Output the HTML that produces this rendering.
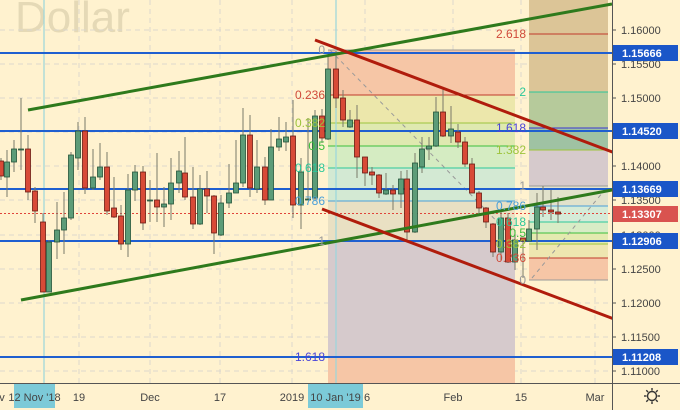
<!DOCTYPE html>
<html><head><meta charset="utf-8"><style>
html,body{margin:0;padding:0;background:#fff2cf;}
svg{display:block;font-family:"Liberation Sans",sans-serif;}
.w{stroke:#7a7a6a;stroke-width:1}
.r{fill:#d84a37;stroke:#6b1a12;stroke-width:.8}
.g{fill:#5c9c78;stroke:#24543a;stroke-width:.8}
.gd{stroke:#dcd8cc;stroke-width:1;stroke-dasharray:5,4}
.ax{font-size:11px;fill:#444}
.bx{font-size:11px;fill:#fff;font-weight:bold}
.fl{font-size:12px}
</style></head><body>
<svg width="680" height="410" viewBox="0 0 680 410">
<rect width="680" height="410" fill="#fff2cf"/>
<text x="15" y="32" font-size="44" fill="#e5d9b6">Dollar</text>
<!-- grid -->
<g class="gd">
<line x1="0" y1="30" x2="612" y2="30"/><line x1="0" y1="64" x2="612" y2="64"/><line x1="0" y1="98" x2="612" y2="98"/><line x1="0" y1="132" x2="612" y2="132"/><line x1="0" y1="166" x2="612" y2="166"/><line x1="0" y1="200" x2="612" y2="200"/><line x1="0" y1="235" x2="612" y2="235"/><line x1="0" y1="269" x2="612" y2="269"/><line x1="0" y1="303" x2="612" y2="303"/><line x1="0" y1="337" x2="612" y2="337"/><line x1="0" y1="371" x2="612" y2="371"/>
<line x1="79" y1="0" x2="79" y2="383"/><line x1="150" y1="0" x2="150" y2="383"/><line x1="220" y1="0" x2="220" y2="383"/><line x1="292" y1="0" x2="292" y2="383"/><line x1="365" y1="0" x2="365" y2="383"/><line x1="453" y1="0" x2="453" y2="383"/><line x1="521" y1="0" x2="521" y2="383"/><line x1="595" y1="0" x2="595" y2="383"/>
</g>
<!-- fib 1 fills -->
<rect x="328" y="50" width="187" height="45" fill="#f6c6a6"/>
<rect x="328" y="95" width="187" height="28" fill="#ece7ab"/>
<rect x="328" y="123" width="187" height="23" fill="#dfe9b0"/>
<rect x="328" y="146" width="187" height="22" fill="#d5ecc2"/>
<rect x="328" y="168" width="187" height="33" fill="#d3e9d3"/>
<rect x="328" y="201" width="187" height="40" fill="#e9e0c3"/>
<rect x="328" y="241" width="187" height="116" fill="#d6cacc"/>
<rect x="328" y="357" width="187" height="26" fill="#f6c6a6"/>
<g stroke-width="1">
<line x1="328" y1="50" x2="515" y2="50" stroke="#999"/>
<line x1="328" y1="95" x2="515" y2="95" stroke="#c0392b"/>
<line x1="328" y1="123" x2="515" y2="123" stroke="#9dc43c"/>
<line x1="328" y1="146" x2="515" y2="146" stroke="#3cbf3c"/>
<line x1="328" y1="168" x2="515" y2="168" stroke="#2cc79a"/>
<line x1="328" y1="201" x2="515" y2="201" stroke="#4a9fd8"/>
<line x1="328" y1="241" x2="515" y2="241" stroke="#999"/>
<line x1="328" y1="357" x2="515" y2="357" stroke="#3b35d0"/>
</g>
<!-- fib 2 fills -->
<rect x="529" y="0" width="79" height="92" fill="#dcc597"/>
<rect x="529" y="92" width="79" height="36" fill="#b6ca9b"/>
<rect x="529" y="128" width="79" height="22" fill="#9fc2a3"/>
<rect x="529" y="150" width="79" height="36" fill="#d6cacc"/>
<rect x="529" y="186" width="79" height="20" fill="#e2e2cb"/>
<rect x="529" y="206" width="79" height="16" fill="#d5ebd8"/>
<rect x="529" y="222" width="79" height="11" fill="#d8ecc6"/>
<rect x="529" y="233" width="79" height="11" fill="#e4eab0"/>
<rect x="529" y="244" width="79" height="14" fill="#eee6b0"/>
<rect x="529" y="258" width="79" height="22" fill="#f6c6a6"/>
<g stroke-width="1">
<line x1="529" y1="34" x2="608" y2="34" stroke="#c0392b"/>
<line x1="529" y1="92" x2="608" y2="92" stroke="#2cc79a"/>
<line x1="529" y1="128" x2="608" y2="128" stroke="#3b35d0"/>
<line x1="529" y1="150" x2="608" y2="150" stroke="#9dc43c"/>
<line x1="529" y1="186" x2="608" y2="186" stroke="#999"/>
<line x1="529" y1="206" x2="608" y2="206" stroke="#4a9fd8"/>
<line x1="529" y1="222" x2="608" y2="222" stroke="#2cc79a"/>
<line x1="529" y1="233" x2="608" y2="233" stroke="#3cbf3c"/>
<line x1="529" y1="244" x2="608" y2="244" stroke="#9dc43c"/>
<line x1="529" y1="258" x2="608" y2="258" stroke="#c0392b"/>
<line x1="529" y1="280" x2="608" y2="280" stroke="#999"/>
</g>
<line x1="330" y1="50" x2="515" y2="240" stroke="#999" stroke-dasharray="4,4"/>
<line x1="532" y1="278" x2="608" y2="186" stroke="#999" stroke-dasharray="4,4"/>
<!-- vertical highlight lines -->
<line x1="44" y1="0" x2="44" y2="383" stroke="#9ad6dc" stroke-width="1.2"/>
<line x1="336" y1="0" x2="336" y2="383" stroke="#9ad6dc" stroke-width="1.2"/>
<!-- blue horizontal levels -->
<g stroke="#1f5fd0" stroke-width="2">
<line x1="0" y1="53" x2="612" y2="53"/><line x1="0" y1="131" x2="612" y2="131"/><line x1="0" y1="189" x2="612" y2="189"/><line x1="0" y1="241" x2="612" y2="241"/><line x1="0" y1="357" x2="612" y2="357"/>
</g>
<line x1="0" y1="213.5" x2="612" y2="213.5" stroke="#e0443a" stroke-width="1" stroke-dasharray="2,2"/>
<!-- candles -->
<g>
<line class="w" x1="1" y1="158" x2="1" y2="180"/><rect class="r" x="-1.5" y="161" width="5" height="15"/>
<line class="w" x1="7" y1="150" x2="7" y2="197"/><rect class="g" x="4.5" y="162" width="5" height="15"/>
<line class="w" x1="14" y1="140" x2="14" y2="172"/><rect class="g" x="11.5" y="149" width="5" height="13"/>
<line class="w" x1="21" y1="98" x2="21" y2="170"/><rect class="g" x="18.5" y="149" width="5" height="1"/>
<line class="w" x1="28" y1="135" x2="28" y2="200"/><rect class="r" x="25.5" y="149" width="5" height="43"/>
<line class="w" x1="35" y1="187" x2="35" y2="223"/><rect class="r" x="32.5" y="191" width="5" height="20"/>
<line class="w" x1="43" y1="213" x2="43" y2="292"/><rect class="r" x="40.5" y="222" width="5" height="70"/>
<line class="w" x1="49" y1="240" x2="49" y2="292"/><rect class="g" x="46.5" y="242" width="5" height="50"/>
<line class="w" x1="57" y1="202" x2="57" y2="259"/><rect class="g" x="54.5" y="230" width="5" height="12"/>
<line class="w" x1="64" y1="192" x2="64" y2="254"/><rect class="g" x="61.5" y="218" width="5" height="12"/>
<line class="w" x1="71" y1="152" x2="71" y2="220"/><rect class="g" x="68.5" y="155" width="5" height="63"/>
<line class="w" x1="78" y1="122" x2="78" y2="170"/><rect class="g" x="75.5" y="131" width="5" height="27"/>
<line class="w" x1="85" y1="117" x2="85" y2="194"/><rect class="r" x="82.5" y="131" width="5" height="57"/>
<line class="w" x1="93" y1="149" x2="93" y2="190"/><rect class="g" x="90.5" y="177" width="5" height="11"/>
<line class="w" x1="100" y1="143" x2="100" y2="180"/><rect class="g" x="97.5" y="167" width="5" height="10"/>
<line class="w" x1="107" y1="152" x2="107" y2="215"/><rect class="r" x="104.5" y="167" width="5" height="44"/>
<line class="w" x1="114" y1="177" x2="114" y2="218"/><rect class="r" x="111.5" y="208" width="5" height="9"/>
<line class="w" x1="121" y1="205" x2="121" y2="250"/><rect class="r" x="118.5" y="216" width="5" height="28"/>
<line class="w" x1="128" y1="174" x2="128" y2="257"/><rect class="g" x="125.5" y="190" width="5" height="54"/>
<line class="w" x1="135" y1="165" x2="135" y2="201"/><rect class="g" x="132.5" y="172" width="5" height="18"/>
<line class="w" x1="143" y1="166" x2="143" y2="230"/><rect class="r" x="140.5" y="172" width="5" height="51"/>
<line class="w" x1="150" y1="180" x2="150" y2="222"/><rect class="g" x="147.5" y="200" width="5" height="1"/>
<line class="w" x1="157" y1="153" x2="157" y2="222"/><rect class="r" x="154.5" y="200" width="5" height="7"/>
<line class="w" x1="164" y1="187" x2="164" y2="227"/><rect class="g" x="161.5" y="204" width="5" height="3"/>
<line class="w" x1="171" y1="158" x2="171" y2="220"/><rect class="g" x="168.5" y="183" width="5" height="21"/>
<line class="w" x1="179" y1="151" x2="179" y2="193"/><rect class="g" x="176.5" y="171" width="5" height="12"/>
<line class="w" x1="185" y1="137" x2="185" y2="200"/><rect class="r" x="182.5" y="173" width="5" height="24"/>
<line class="w" x1="193" y1="167" x2="193" y2="229"/><rect class="r" x="190.5" y="197" width="5" height="27"/>
<line class="w" x1="200" y1="175" x2="200" y2="225"/><rect class="g" x="197.5" y="189" width="5" height="35"/>
<line class="w" x1="207" y1="171" x2="207" y2="213"/><rect class="r" x="204.5" y="189" width="5" height="7"/>
<line class="w" x1="214" y1="195" x2="214" y2="254"/><rect class="r" x="211.5" y="196" width="5" height="37"/>
<line class="w" x1="221" y1="195" x2="221" y2="236"/><rect class="g" x="218.5" y="203" width="5" height="32"/>
<line class="w" x1="229" y1="164" x2="229" y2="208"/><rect class="g" x="226.5" y="193" width="5" height="10"/>
<line class="w" x1="236" y1="140" x2="236" y2="193"/><rect class="g" x="233.5" y="183" width="5" height="10"/>
<line class="w" x1="243" y1="108" x2="243" y2="187"/><rect class="g" x="240.5" y="135" width="5" height="48"/>
<line class="w" x1="250" y1="115" x2="250" y2="197"/><rect class="r" x="247.5" y="135" width="5" height="53"/>
<line class="w" x1="257" y1="140" x2="257" y2="193"/><rect class="g" x="254.5" y="167" width="5" height="22"/>
<line class="w" x1="265" y1="157" x2="265" y2="205"/><rect class="r" x="262.5" y="167" width="5" height="33"/>
<line class="w" x1="271" y1="129" x2="271" y2="200"/><rect class="g" x="268.5" y="147" width="5" height="53"/>
<line class="w" x1="279" y1="117" x2="279" y2="151"/><rect class="g" x="276.5" y="139" width="5" height="8"/>
<line class="w" x1="286" y1="122" x2="286" y2="151"/><rect class="g" x="283.5" y="137" width="5" height="5"/>
<line class="w" x1="293" y1="100" x2="293" y2="218"/><rect class="r" x="290.5" y="136" width="5" height="69"/>
<line class="w" x1="301" y1="158" x2="301" y2="229"/><rect class="g" x="298.5" y="172" width="5" height="33"/>
<line class="w" x1="308" y1="118" x2="308" y2="200"/><rect class="g" x="305.5" y="199" width="5" height="1"/>
<line class="w" x1="315" y1="110" x2="315" y2="200"/><rect class="g" x="312.5" y="116" width="5" height="82"/>
<line class="w" x1="322" y1="109" x2="322" y2="143"/><rect class="r" x="319.5" y="116" width="5" height="22"/>
<line class="w" x1="328" y1="57" x2="328" y2="140"/><rect class="g" x="325.5" y="69" width="5" height="70"/>
<line class="w" x1="336" y1="51" x2="336" y2="108"/><rect class="r" x="333.5" y="69" width="5" height="29"/>
<line class="w" x1="343" y1="90" x2="343" y2="127"/><rect class="r" x="340.5" y="98" width="5" height="22"/>
<line class="w" x1="350" y1="110" x2="350" y2="128"/><rect class="g" x="347.5" y="120" width="5" height="7"/>
<line class="w" x1="357" y1="105" x2="357" y2="178"/><rect class="r" x="354.5" y="120" width="5" height="37"/>
<line class="w" x1="365" y1="157" x2="365" y2="186"/><rect class="r" x="362.5" y="157" width="5" height="16"/>
<line class="w" x1="372" y1="167" x2="372" y2="185"/><rect class="r" x="369.5" y="172" width="5" height="3"/>
<line class="w" x1="379" y1="174" x2="379" y2="198"/><rect class="r" x="376.5" y="175" width="5" height="18"/>
<line class="w" x1="386" y1="173" x2="386" y2="195"/><rect class="g" x="383.5" y="190" width="5" height="4"/>
<line class="w" x1="393" y1="185" x2="393" y2="210"/><rect class="r" x="390.5" y="190" width="5" height="4"/>
<line class="w" x1="401" y1="171" x2="401" y2="208"/><rect class="g" x="398.5" y="179" width="5" height="15"/>
<line class="w" x1="407" y1="170" x2="407" y2="240"/><rect class="r" x="404.5" y="179" width="5" height="53"/>
<line class="w" x1="415" y1="153" x2="415" y2="233"/><rect class="g" x="412.5" y="163" width="5" height="69"/>
<line class="w" x1="422" y1="137" x2="422" y2="173"/><rect class="g" x="419.5" y="149" width="5" height="18"/>
<line class="w" x1="429" y1="137" x2="429" y2="160"/><rect class="g" x="426.5" y="146" width="5" height="3"/>
<line class="w" x1="436" y1="97" x2="436" y2="147"/><rect class="g" x="433.5" y="112" width="5" height="34"/>
<line class="w" x1="443" y1="88" x2="443" y2="137"/><rect class="r" x="440.5" y="112" width="5" height="24"/>
<line class="w" x1="451" y1="106" x2="451" y2="143"/><rect class="g" x="448.5" y="129" width="5" height="7"/>
<line class="w" x1="458" y1="124" x2="458" y2="148"/><rect class="r" x="455.5" y="132" width="5" height="10"/>
<line class="w" x1="465" y1="137" x2="465" y2="167"/><rect class="r" x="462.5" y="142" width="5" height="22"/>
<line class="w" x1="472" y1="158" x2="472" y2="193"/><rect class="r" x="469.5" y="164" width="5" height="29"/>
<line class="w" x1="479" y1="191" x2="479" y2="215"/><rect class="r" x="476.5" y="193" width="5" height="15"/>
<line class="w" x1="486" y1="207" x2="486" y2="228"/><rect class="r" x="483.5" y="208" width="5" height="14"/>
<line class="w" x1="493" y1="223" x2="493" y2="257"/><rect class="r" x="490.5" y="224" width="5" height="28"/>
<line class="w" x1="501" y1="212" x2="501" y2="260"/><rect class="g" x="498.5" y="218" width="5" height="34"/>
<line class="w" x1="508" y1="213" x2="508" y2="263"/><rect class="r" x="505.5" y="218" width="5" height="44"/>
<line class="w" x1="515" y1="230" x2="515" y2="270"/><rect class="g" x="512.5" y="240" width="5" height="22"/>
<line class="w" x1="523" y1="238" x2="523" y2="278"/><rect class="r" x="520.5" y="238" width="5" height="3"/>
<line class="w" x1="529" y1="220" x2="529" y2="242"/><rect class="g" x="526.5" y="229" width="5" height="12"/>
<line class="w" x1="537" y1="193" x2="537" y2="250"/><rect class="g" x="534.5" y="207" width="5" height="22"/>
<line class="w" x1="543" y1="186" x2="543" y2="217"/><rect class="r" x="540.5" y="207" width="5" height="3"/>
<line class="w" x1="551" y1="190" x2="551" y2="220"/><rect class="r" x="548.5" y="210" width="5" height="2"/>
<line class="w" x1="558" y1="197" x2="558" y2="223"/><rect class="r" x="555.5" y="212" width="5" height="2"/>
</g>
<!-- trend lines -->
<line x1="28" y1="110" x2="612" y2="4" stroke="#2e7a1c" stroke-width="3"/>
<line x1="21" y1="300" x2="612" y2="190" stroke="#2e7a1c" stroke-width="3"/>
<line x1="315" y1="40" x2="615" y2="153" stroke="#b01c0c" stroke-width="3"/>
<line x1="322" y1="209" x2="622" y2="322" stroke="#b01c0c" stroke-width="3"/>
<!-- fib labels -->
<g class="fl" text-anchor="end">
<text x="325" y="54" fill="#999">0</text>
<text x="325" y="99" fill="#d04a3a">0.236</text>
<text x="325" y="127" fill="#9dc43c">0.382</text>
<text x="325" y="150" fill="#3cbf3c">0.5</text>
<text x="325" y="172" fill="#2cc79a">0.618</text>
<text x="325" y="205" fill="#4a9fd8">0.786</text>
<text x="325" y="245" fill="#999">1</text>
<text x="325" y="361" fill="#4a45d8">1.618</text>
<text x="526" y="38" fill="#d04a3a">2.618</text>
<text x="526" y="96" fill="#2cc79a">2</text>
<text x="526" y="132" fill="#4a45d8">1.618</text>
<text x="526" y="154" fill="#9dc43c">1.382</text>
<text x="526" y="190" fill="#999">1</text>
<text x="526" y="210" fill="#4a9fd8">0.786</text>
<text x="526" y="226" fill="#2cc79a">0.618</text>
<text x="526" y="237" fill="#3cbf3c">0.5</text>
<text x="526" y="248" fill="#9dc43c">0.382</text>
<text x="526" y="262" fill="#d04a3a">0.236</text>
<text x="526" y="284" fill="#999">0</text>
</g>
<!-- axes -->
<rect x="612" y="0" width="68" height="410" fill="#fff2cf"/>
<rect x="0" y="383" width="680" height="27" fill="#fff2cf"/>
<line x1="612.5" y1="0" x2="612.5" y2="410" stroke="#555"/>
<line x1="0" y1="383.5" x2="680" y2="383.5" stroke="#555"/>
<g stroke="#555">
<line x1="612" y1="30" x2="616" y2="30"/><line x1="612" y1="64" x2="616" y2="64"/><line x1="612" y1="98" x2="616" y2="98"/><line x1="612" y1="132" x2="616" y2="132"/><line x1="612" y1="166" x2="616" y2="166"/><line x1="612" y1="200" x2="616" y2="200"/><line x1="612" y1="235" x2="616" y2="235"/><line x1="612" y1="269" x2="616" y2="269"/><line x1="612" y1="303" x2="616" y2="303"/><line x1="612" y1="337" x2="616" y2="337"/><line x1="612" y1="371" x2="616" y2="371"/>
</g>
<g class="ax">
<text x="621" y="34">1.16000</text><text x="621" y="68">1.15500</text><text x="621" y="102">1.15000</text><text x="621" y="136">1.14500</text><text x="621" y="170">1.14000</text><text x="621" y="204">1.13500</text><text x="621" y="239">1.13000</text><text x="621" y="273">1.12500</text><text x="621" y="307">1.12000</text><text x="621" y="341">1.11500</text><text x="621" y="375">1.11000</text>
</g>
<g>
<rect x="613" y="45" width="65" height="16" fill="#1a56c8"/><text class="bx" x="622" y="57">1.15666</text>
<rect x="613" y="123" width="65" height="16" fill="#1a56c8"/><text class="bx" x="622" y="135">1.14520</text>
<rect x="613" y="181" width="65" height="16" fill="#1a56c8"/><text class="bx" x="622" y="193">1.13669</text>
<rect x="613" y="206" width="65" height="16" fill="#d9534f"/><text class="bx" x="622" y="218">1.13307</text>
<rect x="613" y="233" width="65" height="16" fill="#1a56c8"/><text class="bx" x="622" y="245">1.12906</text>
<rect x="613" y="349" width="65" height="16" fill="#1a56c8"/><text class="bx" x="622" y="361">1.11208</text>
</g>
<g class="ax" text-anchor="middle">
<text x="2" y="401">v</text>
<text x="79" y="401">19</text><text x="150" y="401">Dec</text><text x="220" y="401">17</text><text x="292" y="401">2019</text><text x="367" y="401">6</text><text x="453" y="401">Feb</text><text x="521" y="401">15</text><text x="595" y="401">Mar</text>
</g>
<rect x="14" y="384" width="41" height="24" fill="#7ccad8"/><text class="ax" x="34.5" y="401" text-anchor="middle" fill="#222">12 Nov '18</text>
<rect x="308" y="384" width="55" height="24" fill="#7ccad8"/><text class="ax" x="335.5" y="401" text-anchor="middle" fill="#222">10 Jan '19</text>
<g transform="translate(652,396)" stroke="#333" stroke-width="1.4" fill="none">
<circle r="4.5"/>
<line x1="0" y1="-8" x2="0" y2="-5.5"/><line x1="0" y1="8" x2="0" y2="5.5"/><line x1="-8" y1="0" x2="-5.5" y2="0"/><line x1="8" y1="0" x2="5.5" y2="0"/>
<line x1="-5.7" y1="-5.7" x2="-3.9" y2="-3.9"/><line x1="5.7" y1="5.7" x2="3.9" y2="3.9"/><line x1="-5.7" y1="5.7" x2="-3.9" y2="3.9"/><line x1="5.7" y1="-5.7" x2="3.9" y2="-3.9"/>
</g>
</svg>
</body></html>
